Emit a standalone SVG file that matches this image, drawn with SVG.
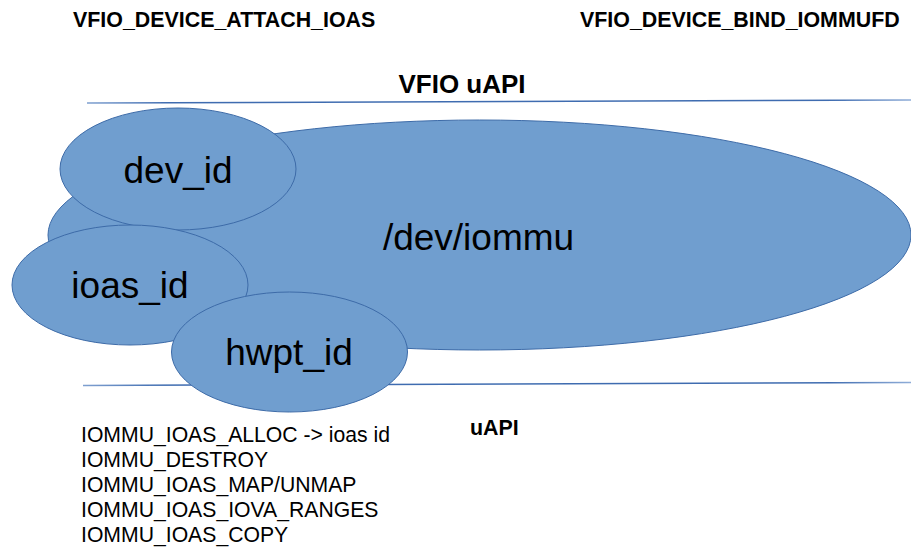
<svg xmlns="http://www.w3.org/2000/svg" width="911" height="547" viewBox="0 0 911 547">
<style>
.bub{fill:#709ECF;stroke:#3D6BA8;stroke-width:1}
.lbl{font-family:"Liberation Sans",Arial,sans-serif;font-size:37px;fill:#000;text-anchor:middle}
.hdr{font-family:"Liberation Sans",Arial,sans-serif;font-weight:bold;font-size:21.4px;fill:#000}
.lst{font-family:"Liberation Sans",Arial,sans-serif;font-size:21.2px;fill:#000}
.rule{stroke:url(#lg);stroke-width:1.5;fill:none}
</style>
<defs>
<linearGradient id="lg" x1="0" y1="0" x2="1" y2="0">
<stop offset="0" stop-color="#7FA0D0"/>
<stop offset="0.1" stop-color="#3F6CB0"/>
<stop offset="0.9" stop-color="#3F6CB0"/>
<stop offset="1" stop-color="#8FADD8"/>
</linearGradient>
</defs>
<rect width="911" height="547" fill="#fff"/>
<text class="hdr" x="73" y="27">VFIO_DEVICE_ATTACH_IOAS</text>
<text class="hdr" x="580" y="27">VFIO_DEVICE_BIND_IOMMUFD</text>
<text class="hdr" x="462" y="93" text-anchor="middle" style="font-size:26px">VFIO uAPI</text>
<g id="connectors">
<line class="rule" x1="87" y1="103" x2="911" y2="100"/>
<line class="rule" x1="83" y1="385.5" x2="911" y2="382.5"/>
</g>
<g id="iommu">
<ellipse class="bub" cx="479.5" cy="235" rx="431.5" ry="115"/>
<text class="lbl" x="478.5" y="250">/dev/iommu</text>
</g>
<g id="dev_id">
<ellipse class="bub" cx="178" cy="169" rx="118" ry="61"/>
<text class="lbl" x="178" y="183">dev_id</text>
</g>
<g id="ioas_id">
<ellipse class="bub" cx="130" cy="285" rx="118" ry="60"/>
<text class="lbl" x="130" y="298">ioas_id</text>
</g>
<g id="hwpt_id">
<ellipse class="bub" cx="289.5" cy="352" rx="118" ry="60"/>
<text class="lbl" x="289" y="365">hwpt_id</text>
</g>
<text class="hdr" x="470" y="435">uAPI</text>
<g id="list">
<text class="lst" x="81" y="442">IOMMU_IOAS_ALLOC -&gt; ioas id</text>
<text class="lst" x="81" y="467">IOMMU_DESTROY</text>
<text class="lst" x="81" y="492">IOMMU_IOAS_MAP/UNMAP</text>
<text class="lst" x="81" y="517">IOMMU_IOAS_IOVA_RANGES</text>
<text class="lst" x="81" y="542">IOMMU_IOAS_COPY</text>
</g>
</svg>
